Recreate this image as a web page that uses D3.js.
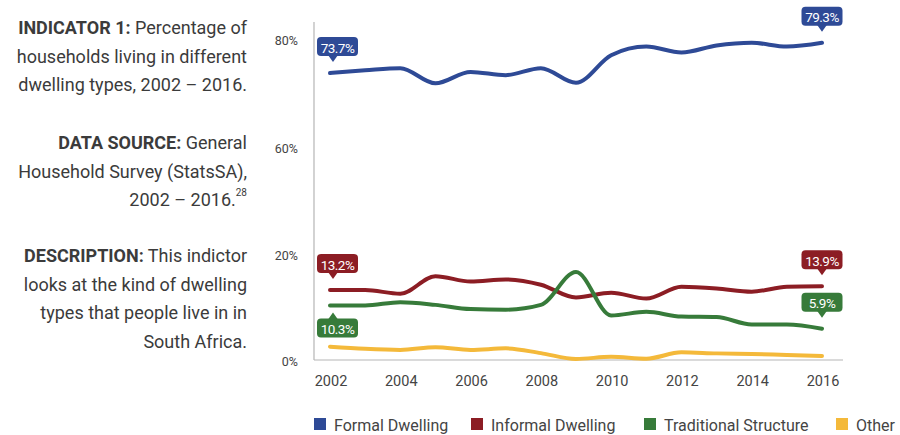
<!DOCTYPE html>
<html>
<head>
<meta charset="utf-8">
<script src="https://cdn.jsdelivr.net/npm/d3@7"></script>
<style>
  body { margin: 0; background: #fff; font-family: Roboto, "Open Sans", sans-serif; }
  svg { display: block; }
</style>
</head>
<body>
<div id="chartId"></div>
<script>

// Data (percent of households)
const years = [2002, 2003, 2004, 2005, 2006, 2007, 2008, 2009, 2010, 2011, 2012, 2013, 2014, 2015, 2016];
const formal      = [73.7, 74.2, 74.6, 71.8, 73.9, 73.3, 74.6, 71.9, 77.0, 78.6, 77.5, 78.8, 79.3, 78.6, 79.3];
const informal    = [13.2, 13.2, 12.5, 15.8, 14.8, 15.2, 14.2, 11.8, 12.7, 11.6, 13.8, 13.5, 12.9, 13.8, 13.9];
const traditional = [10.3, 10.3, 10.9, 10.4, 9.6, 9.5, 10.4, 16.6, 8.4, 9.1, 8.2, 8.1, 6.7, 6.7, 5.9];
const other       = [2.5, 2.1, 1.9, 2.4, 1.9, 2.2, 1.3, 0.2, 0.6, 0.25, 1.45, 1.25, 1.15, 0.95, 0.75];

const seriesNames  = ['Formal Dwelling', 'Informal Dwelling', 'Traditional Structure', 'Other'];
const seriesValues = [formal, informal, traditional, other];
const colors = ['#2e4a96', '#8c1d24', '#377b3a', '#f4b93a'];

const yTicks = [0, 20, 60, 80];
const xTicks = [2002, 2004, 2006, 2008, 2010, 2012, 2014, 2016];

// which end points get a value callout, and on which side
const callouts = [
  {s: 0, i: 0, pos: 'above'}, {s: 0, i: 14, pos: 'above'},
  {s: 1, i: 0, pos: 'above'}, {s: 1, i: 14, pos: 'above'},
  {s: 2, i: 0, pos: 'below'}, {s: 2, i: 14, pos: 'above'}
];

const textBlocks = [
  {y: 27, lines: [['INDICATOR 1:', ' Percentage of'], ['', 'households living in different'], ['', 'dwelling types, 2002 \u2013 2016.']]},
  {y: 142, lines: [['DATA SOURCE:', ' General'], ['', 'Household Survey (StatsSA),'], ['', '2002 \u2013 2016.', '28']]},
  {y: 255, lines: [['DESCRIPTION:', ' This indictor'], ['', 'looks at the kind of dwelling'], ['', 'types that people live in in'], ['', 'South Africa.']]}
];

const W = 900, H = 435;
const svg = d3.select('#chartId').append('svg').attr('width', W).attr('height', H);

// broken-looking axis: 0-20 and 60-80 get the same space as 20-60
const x = d3.scaleLinear().domain([2002, 2016]).range([330, 822]);
const y = d3.scaleLinear().domain([0, 20, 60, 80]).range([360, 254, 147, 39]);

// left description text
textBlocks.forEach(b => {
  b.lines.forEach((l, k) => {
    const t = svg.append('text')
      .attr('x', 247).attr('y', b.y + k * 28.7)
      .attr('text-anchor', 'end').attr('dominant-baseline', 'central')
      .style('font-size', '18px').style('fill', '#3b3b3b');
    if (l[0]) t.append('tspan').style('font-weight', 'bold').text(l[0]);
    t.append('tspan').text(l[1]);
    if (l[2]) t.append('tspan').attr('dy', -7).style('font-size', '10px').text(l[2]);
  });
});

// axes
svg.append('line').attr('x1', 314).attr('x2', 314).attr('y1', 22).attr('y2', 360)
  .attr('stroke', '#b5b5b5').attr('stroke-width', 1.2);
svg.append('line').attr('x1', 314).attr('x2', 843).attr('y1', 360).attr('y2', 360)
  .attr('stroke', '#b5b5b5').attr('stroke-width', 1.2);

svg.selectAll('.ytick').data(yTicks).enter().append('text')
  .attr('x', 298).attr('y', d => y(d) + 1)
  .attr('text-anchor', 'end').attr('dominant-baseline', 'central')
  .style('font-size', '12.5px').style('fill', '#444')
  .text(d => d + '%');

svg.selectAll('.xtick').data(xTicks).enter().append('text')
  .attr('x', d => x(d) + 1).attr('y', 381)
  .attr('text-anchor', 'middle').attr('dominant-baseline', 'central')
  .style('font-size', '14.5px').style('fill', '#444')
  .text(d => d);

// lines
const line = d3.line().x((d, i) => x(years[i])).y(d => y(d)).curve(d3.curveMonotoneX);
svg.selectAll('.series').data(seriesValues).enter().append('path')
  .attr('fill', 'none')
  .attr('stroke', (d, i) => colors[i])
  .attr('stroke-width', 4)
  .attr('stroke-linecap', 'round')
  .attr('d', line);

// value callouts
callouts.forEach(c => {
  const v = seriesValues[c.s][c.i];
  const px = x(years[c.i]), py = y(v);
  const bw = 41, bh = 19;
  let bx = px - bw / 2;
  if (bx < 317) bx = 317;
  const tipX = Math.max(px, bx + 16);
  const g = svg.append('g');
  let by, tri;
  if (c.pos === 'above') {
    by = py - 17 - bh;
    tri = [[tipX - 5, by + bh - 1], [tipX + 5, by + bh - 1], [tipX, by + bh + 6]];
  } else {
    by = py + 13;
    tri = [[tipX - 5, by + 1], [tipX + 5, by + 1], [tipX, by - 6]];
  }
  g.append('rect').attr('x', bx).attr('y', by).attr('width', bw).attr('height', bh)
    .attr('rx', 4).attr('fill', colors[c.s]);
  g.append('path').attr('d', d3.line()(tri) + 'Z').attr('fill', colors[c.s]);
  g.append('text').attr('x', bx + bw / 2).attr('y', by + bh / 2 + 1)
    .attr('text-anchor', 'middle').attr('dominant-baseline', 'central')
    .style('font-size', '13.5px').style('fill', '#fff').style('letter-spacing', '-0.5px')
    .text(d3.format('.1f')(v) + '%');
});

// legend
const legendX = [314, 471, 644, 836];
const lg = svg.selectAll('.legend').data(seriesNames).enter().append('g')
  .attr('transform', (d, i) => 'translate(' + legendX[i] + ',424)');
lg.append('rect').attr('x', 0).attr('y', -6).attr('width', 12).attr('height', 12)
  .attr('fill', (d, i) => colors[i]);
lg.append('text').attr('x', 20).attr('y', 1).attr('dominant-baseline', 'central')
  .style('font-size', '16px').style('fill', '#444').text(d => d);

</script>
</body>
</html>
